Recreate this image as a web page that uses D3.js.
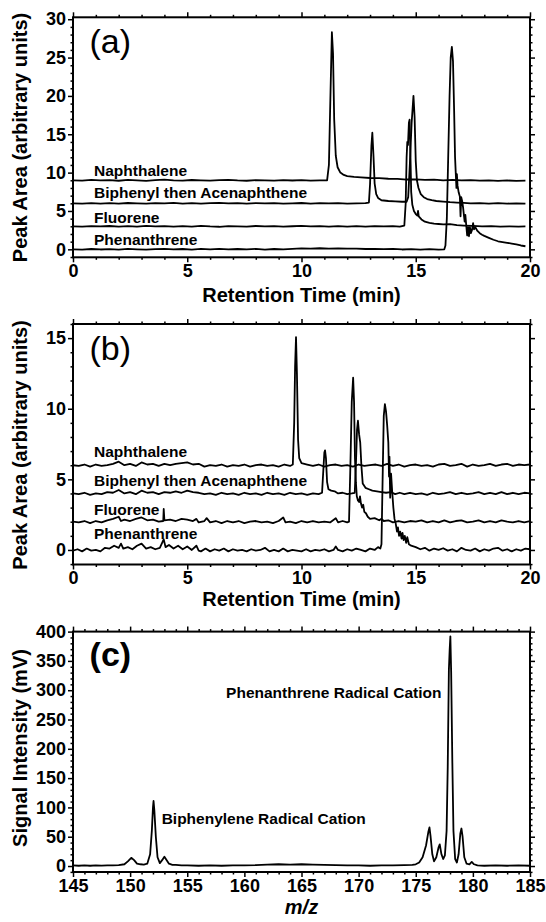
<!DOCTYPE html>
<html lang="en">
<head>
  <meta charset="UTF-8">
  <title>PAH chromatograms and mass spectrum</title>
  <style>
    body {
      margin: 0;
      background: #fff;
    }
    svg {
      display: block;
      font-family: "Liberation Sans", Arial, Helvetica, sans-serif;
    }
    .tick text {
      font-size: 18px;
      font-weight: bold;
      fill: #000;
    }
    .tick line {
      stroke: #000;
      stroke-width: 1.5;
    }
    .trace {
      fill: none;
      stroke: #000;
      stroke-width: 1.8;
      stroke-linejoin: round;
    }
  </style>
</head>
<body>
  <div class="chart"></div>
  <script src="https://cdnjs.cloudflare.com/ajax/libs/d3/7.8.5/d3.min.js"></script>
  <script>
    // ---- panel (a): retention time (min), peak area ----
    const naphA = [[0,9.0],[0.4,8.95],[0.8,9.05],[1.2,8.98],[1.6,9.03],[2.0,8.94],[2.4,9.06],[2.8,9.0],[3.2,8.93],[3.6,9.02],[4.0,9.08],[4.4,9.0],[4.8,8.95],[5.2,9.04],[5.6,9.0],[6.0,8.95],[6.4,9.02],[6.8,9.06],[7.2,8.98],[7.6,8.94],[8.0,9.02],[8.4,9.0],[8.8,8.95],[9.2,9.03],[9.6,8.97],[10.0,9.02],[10.4,8.96],[10.8,9.0],[11.12,9.0],[11.2,11.0],[11.27,20.5],[11.33,28.3],[11.38,25.5],[11.43,17],[11.5,12.2],[11.58,10.7],[11.7,10.0],[11.85,9.7],[12.0,9.55],[12.3,9.45],[12.6,9.38],[13.0,9.3],[13.4,9.28],[13.8,9.2],[14.2,9.18],[14.6,9.1],[15.0,9.12],[15.4,9.05],[15.8,9.08],[16.2,9.0],[16.6,9.05],[17.0,8.98],[17.4,9.03],[17.8,8.95],[18.2,9.0],[18.6,8.93],[19.0,8.98],[19.4,8.92],[19.8,8.95]];
    const bipA = [[0,6.0],[0.4,5.95],[0.8,6.03],[1.2,5.97],[1.6,6.02],[2.0,5.96],[2.4,6.04],[2.8,5.99],[3.2,5.95],[3.6,6.03],[4.0,6.0],[4.4,6.05],[4.8,5.97],[5.2,6.02],[5.6,5.95],[6.0,6.01],[6.4,6.05],[6.8,5.98],[7.2,6.02],[7.6,5.96],[8.0,6.03],[8.4,5.98],[8.8,6.02],[9.2,5.95],[9.6,6.0],[10.0,6.04],[10.4,5.97],[10.8,6.02],[11.2,5.98],[11.6,6.03],[12.0,5.97],[12.4,6.0],[12.8,6.02],[12.95,6.1],[13.0,8.5],[13.06,13.5],[13.1,15.2],[13.15,12.2],[13.2,8.6],[13.27,7.2],[13.35,6.7],[13.5,6.4],[13.8,6.3],[14.1,6.25],[14.4,6.2],[14.6,6.2],[14.67,6.8],[14.74,11],[14.82,16.5],[14.9,20.0],[14.95,17.2],[15.0,11.5],[15.05,9.0],[15.12,8.0],[15.22,7.2],[15.35,6.8],[15.5,6.55],[15.7,6.4],[15.9,6.3],[16.2,6.22],[16.5,6.15],[16.8,6.1],[17.1,6.05],[17.4,6.0],[17.8,6.03],[18.2,5.97],[18.6,6.02],[19.0,5.96],[19.4,6.0],[19.8,5.95]];
    const fluA = [[0,3.0],[0.4,2.95],[0.8,3.03],[1.2,2.98],[1.6,3.04],[2.0,2.96],[2.4,3.02],[2.8,2.95],[3.2,3.05],[3.6,2.99],[4.0,3.03],[4.4,2.95],[4.8,3.02],[5.2,2.97],[5.6,3.05],[6.0,2.98],[6.4,2.94],[6.8,3.03],[7.2,3.0],[7.6,2.96],[8.0,3.04],[8.4,2.98],[8.8,3.02],[9.2,2.95],[9.6,3.01],[10.0,3.05],[10.4,2.98],[10.8,3.02],[11.2,2.96],[11.6,3.03],[12.0,2.97],[12.4,3.02],[12.8,2.95],[13.2,3.03],[13.6,2.98],[14.0,3.02],[14.3,2.97],[14.5,3.1],[14.56,6],[14.6,12],[14.63,14.0],[14.66,13.6],[14.7,16.5],[14.73,16.9],[14.77,12],[14.8,7.5],[14.85,5.8],[14.92,5.0],[15.0,4.6],[15.07,4.4],[15.1,5.0],[15.13,4.3],[15.25,3.9],[15.4,3.6],[15.6,3.45],[15.8,3.35],[16.0,3.3],[16.2,3.25],[16.5,3.28],[16.8,3.15],[17.1,3.1],[17.5,3.05],[17.9,3.0],[18.3,3.02],[18.7,2.97],[19.1,3.0],[19.5,2.96],[19.8,2.98]];
    const phenA = [[0,0.0],[0.4,-0.05],[0.8,0.04],[1.2,-0.02],[1.6,0.03],[2.0,-0.04],[2.4,0.05],[2.8,0.0],[3.2,-0.05],[3.6,0.03],[4.0,0.06],[4.4,-0.02],[4.8,0.04],[5.2,-0.03],[5.6,0.05],[6.0,0.0],[6.4,0.06],[6.8,-0.02],[7.2,0.04],[7.6,0.0],[8.0,0.05],[8.4,-0.03],[8.8,0.04],[9.2,0.0],[9.6,0.06],[10.0,0.12],[10.4,0.08],[10.8,0.14],[11.2,0.1],[11.6,0.13],[12.0,0.08],[12.4,0.1],[12.8,0.04],[13.2,0.07],[13.6,0.02],[14.0,0.05],[14.4,-0.02],[14.8,0.03],[15.2,-0.04],[15.6,0.02],[16.0,-0.05],[16.25,0.0],[16.3,0.5],[16.36,4],[16.42,12],[16.48,20],[16.53,25],[16.58,26.4],[16.63,24.5],[16.68,18],[16.72,12],[16.75,10.0],[16.78,8.0],[16.8,9.8],[16.83,8.3],[16.88,7.4],[16.93,6.9],[16.96,4.3],[16.99,6.8],[17.03,6.3],[17.07,5.5],[17.11,4.4],[17.14,3.6],[17.17,4.5],[17.21,3.1],[17.25,1.8],[17.29,2.9],[17.33,1.7],[17.37,2.9],[17.41,2.1],[17.46,2.5],[17.51,3.4],[17.55,2.6],[17.6,2.9],[17.7,2.4],[17.8,2.1],[17.9,1.9],[18.0,1.75],[18.2,1.5],[18.4,1.25],[18.6,1.05],[18.8,0.95],[19.0,0.85],[19.2,0.75],[19.4,0.65],[19.6,0.5],[19.8,0.4]];

    // ---- panel (b) ----
    const naphB = [[0,6.0],[0.25,5.95],[0.5,6.05],[0.75,5.9],[1.0,6.05],[1.25,5.95],[1.5,6.0],[1.75,6.1],[2.0,6.25],[2.25,6.0],[2.5,6.1],[2.75,5.95],[3.0,6.2],[3.25,6.05],[3.5,6.1],[3.75,5.95],[4.0,6.1],[4.25,6.0],[4.5,6.1],[4.75,6.15],[5.0,6.2],[5.25,6.05],[5.5,6.1],[5.75,5.9],[6.0,6.0],[6.25,5.95],[6.5,6.05],[6.75,5.9],[7.0,6.0],[7.25,5.95],[7.5,6.05],[7.75,5.9],[8.0,6.0],[8.25,6.05],[8.5,5.95],[8.75,6.0],[9.0,5.9],[9.25,6.05],[9.5,5.95],[9.62,6.05],[9.68,9],[9.72,13],[9.76,15.07],[9.8,12.5],[9.85,7.8],[9.9,6.5],[10.0,6.15],[10.25,6.05],[10.5,5.95],[10.75,6.05],[11.0,5.9],[11.25,6.0],[11.5,6.05],[11.75,5.95],[12.0,6.0],[12.25,5.9],[12.5,6.05],[12.75,5.95],[13.0,6.0],[13.25,6.05],[13.5,5.95],[13.75,6.1],[14.0,5.95],[14.25,6.05],[14.5,5.9],[14.75,6.0],[15.0,6.05],[15.25,5.95],[15.5,6.0],[15.75,5.9],[16.0,6.05],[16.25,6.1],[16.5,5.95],[16.75,6.0],[17.0,6.1],[17.25,5.9],[17.5,6.05],[17.75,5.95],[18.0,6.0],[18.25,6.1],[18.5,5.95],[18.75,6.05],[19.0,6.1],[19.25,5.95],[19.5,6.05],[19.75,6.0],[20.0,6.05]];
    const bipB = [[0,4.0],[0.25,3.95],[0.5,4.05],[0.75,3.9],[1.0,4.0],[1.25,3.95],[1.5,4.1],[1.75,4.05],[2.0,4.25],[2.25,4.0],[2.5,4.1],[2.75,3.95],[3.0,4.2],[3.25,4.05],[3.5,4.1],[3.75,3.95],[4.0,4.1],[4.25,4.05],[4.5,4.15],[4.75,4.05],[5.0,4.2],[5.25,4.1],[5.5,4.05],[5.75,3.95],[6.0,4.0],[6.25,3.9],[6.5,4.05],[6.75,3.95],[7.0,4.0],[7.25,3.9],[7.5,4.05],[7.75,3.95],[8.0,4.0],[8.25,3.9],[8.5,4.05],[8.75,3.95],[9.0,4.0],[9.25,3.9],[9.5,4.05],[9.75,3.95],[10.0,4.0],[10.25,3.9],[10.5,4.0],[10.75,3.95],[10.9,4.05],[10.95,5.5],[11.0,6.9],[11.03,7.05],[11.07,6.5],[11.12,4.8],[11.18,4.3],[11.3,4.2],[11.45,4.15],[11.6,4.0],[11.8,4.05],[12.0,3.95],[12.2,4.0],[12.33,4.05],[12.38,6],[12.43,8.5],[12.47,9.15],[12.52,8.2],[12.57,7.6],[12.62,6.0],[12.68,4.7],[12.8,4.4],[12.95,4.3],[13.1,4.2],[13.3,4.15],[13.5,4.1],[13.7,4.05],[13.9,4.1],[14.1,3.95],[14.3,4.05],[14.5,3.95],[14.75,4.05],[15.0,3.95],[15.25,4.0],[15.5,3.9],[15.75,4.05],[16.0,3.95],[16.25,4.0],[16.5,4.1],[16.75,3.95],[17.0,4.05],[17.25,3.95],[17.5,4.0],[17.75,4.1],[18.0,3.95],[18.25,4.05],[18.5,3.95],[18.75,4.1],[19.0,3.95],[19.25,4.05],[19.5,3.95],[19.75,4.05],[20.0,4.0]];
    const fluB = [[0,2.0],[0.25,1.95],[0.5,2.05],[0.75,1.9],[1.0,2.05],[1.25,1.95],[1.5,2.1],[1.75,2.2],[2.0,2.35],[2.1,2.05],[2.25,2.15],[2.5,2.05],[2.75,2.2],[3.0,2.3],[3.25,2.1],[3.5,2.15],[3.75,2.0],[3.95,2.05],[3.97,2.9],[4.0,2.1],[4.25,2.15],[4.5,2.05],[4.75,2.2],[5.0,2.15],[5.25,2.05],[5.4,2.2],[5.5,1.95],[5.75,2.05],[5.85,2.25],[6.0,1.95],[6.25,2.05],[6.5,1.9],[6.75,2.05],[7.0,1.95],[7.25,2.05],[7.5,1.9],[7.75,2.0],[8.0,2.05],[8.25,1.95],[8.5,2.0],[8.75,1.9],[9.0,2.05],[9.2,2.3],[9.3,1.95],[9.5,2.0],[9.75,1.9],[10.0,2.05],[10.25,1.95],[10.5,2.05],[10.75,1.95],[11.0,2.0],[11.25,1.95],[11.5,2.25],[11.6,1.95],[11.8,2.05],[12.0,1.95],[12.08,2.0],[12.14,6],[12.2,10.5],[12.26,12.2],[12.3,10.5],[12.34,6.5],[12.38,4.8],[12.42,3.8],[12.47,3.5],[12.52,3.4],[12.56,3.8],[12.6,3.3],[12.65,3.0],[12.7,3.2],[12.75,2.7],[12.82,2.6],[12.9,2.35],[13.0,2.2],[13.2,2.25],[13.4,2.1],[13.5,2.2],[13.6,2.05],[13.8,2.1],[14.0,1.95],[14.25,2.05],[14.5,1.95],[14.75,2.05],[15.0,2.0],[15.25,2.1],[15.5,1.95],[15.75,2.05],[16.0,1.95],[16.25,2.1],[16.5,1.95],[16.75,2.05],[17.0,2.1],[17.25,1.95],[17.5,2.0],[17.75,2.1],[18.0,1.95],[18.25,2.05],[18.5,1.95],[18.75,2.1],[19.0,2.0],[19.25,1.95],[19.5,2.05],[19.75,1.95],[20.0,2.05]];
    const phenB = [[0,-0.05],[0.2,0.05],[0.4,-0.1],[0.6,0.1],[0.8,-0.05],[1.0,0.0],[1.2,-0.1],[1.4,0.15],[1.6,0.1],[1.8,0.3],[2.0,0.15],[2.1,0.45],[2.2,0.1],[2.4,0.2],[2.6,0.05],[2.8,0.3],[3.0,0.45],[3.2,0.1],[3.4,0.2],[3.6,0.05],[3.8,0.15],[3.97,0.75],[4.05,0.2],[4.2,0.35],[4.4,0.1],[4.6,0.3],[4.8,0.05],[5.0,0.25],[5.2,0.0],[5.4,0.3],[5.5,-0.05],[5.6,-0.1],[5.8,0.1],[6.0,-0.1],[6.2,0.05],[6.4,-0.05],[6.6,0.1],[6.8,-0.1],[7.0,0.05],[7.2,-0.05],[7.4,0.0],[7.6,-0.1],[7.8,0.05],[8.0,-0.05],[8.2,0.0],[8.4,0.15],[8.6,-0.1],[8.8,0.0],[9.0,-0.1],[9.2,0.1],[9.4,-0.1],[9.6,0.0],[9.8,-0.05],[10.0,-0.1],[10.2,0.05],[10.4,-0.1],[10.6,0.0],[10.8,-0.05],[11.0,0.05],[11.2,-0.1],[11.4,0.0],[11.5,0.25],[11.6,0.0],[11.8,-0.1],[12.0,0.05],[12.2,-0.05],[12.4,0.1],[12.6,0.0],[12.8,-0.1],[13.0,0.1],[13.2,0.0],[13.35,0.2],[13.45,0.1],[13.5,0.4],[13.55,5],[13.6,9.5],[13.65,10.33],[13.7,9.8],[13.75,8.8],[13.8,7.6],[13.83,5.2],[13.85,6.6],[13.88,3.7],[13.92,5.4],[13.97,4.1],[14.02,3.0],[14.07,2.2],[14.12,1.9],[14.18,1.3],[14.22,1.6],[14.27,1.0],[14.32,1.3],[14.38,0.8],[14.42,1.2],[14.47,0.7],[14.52,1.0],[14.58,0.5],[14.63,0.9],[14.7,0.4],[14.8,0.3],[15.0,0.2],[15.2,0.05],[15.4,0.15],[15.6,-0.05],[15.8,0.1],[16.0,0.0],[16.2,0.12],[16.4,-0.05],[16.6,0.05],[16.8,-0.1],[17.0,0.15],[17.2,0.0],[17.4,-0.05],[17.6,0.1],[17.8,-0.1],[18.0,0.05],[18.2,-0.05],[18.4,0.1],[18.6,0.15],[18.8,-0.05],[19.0,0.05],[19.2,-0.1],[19.4,0.05],[19.6,-0.05],[19.8,0.1],[20.0,0.05]];

    // ---- panel (c): m/z, signal (mV) ----
    const spectrum = [[145,1],[145.5,0.5],[146,1],[146.5,0.5],[147,1],[147.5,0.8],[148,1],[148.5,1],[149,1.5],[149.5,3],[149.8,8],[150.1,14],[150.35,10],[150.6,4],[150.9,3],[151.2,2.5],[151.5,4],[151.75,20],[151.9,60],[152.0,100],[152.05,111],[152.12,95],[152.25,50],[152.4,15],[152.6,5],[152.8,10],[153.0,16],[153.2,10],[153.4,4],[153.7,2],[154,2],[154.5,1],[155,1],[156,0.5],[157,1],[158,0.5],[159,1],[160,1],[161,1.5],[162,2.5],[163,3],[164,2.5],[165,3],[166,2.5],[167,2],[168,1.5],[169,1],[170,1],[171,0.5],[172,1],[173,1],[174,1.5],[174.7,2],[175,3],[175.3,6],[175.6,15],[175.9,35],[176.1,58],[176.2,66],[176.3,50],[176.45,20],[176.6,8],[176.8,15],[177.0,32],[177.1,37],[177.25,20],[177.4,12],[177.55,18],[177.7,60],[177.8,170],[177.9,335],[177.97,370],[178.03,392],[178.1,330],[178.2,180],[178.3,60],[178.45,12],[178.6,6],[178.75,20],[178.9,55],[179.0,64],[179.1,50],[179.25,15],[179.45,4],[179.7,3],[179.9,7],[180.1,3],[180.4,1],[181,0.5],[182,1],[183,0.5],[184,1],[185,0.5]];

    const traceNamesAB = ['Naphthalene', 'Biphenyl then Acenaphthene', 'Fluorene', 'Phenanthrene'];
    const nameLevelsA = [9.55, 6.65, 3.47, 0.56];
    const nameLevelsB = [6.6, 4.55, 2.48, 0.76];

    const svgWidth = 546;
    const svgHeight = 922;
    const plotLeft = 73;
    const plotRight = 530;

    const svg = d3.select('.chart')
      .append('svg')
      .attr('width', svgWidth)
      .attr('height', svgHeight);

    const panels = [
      {
        id: 'a', tag: '(a)', tagBold: false,
        top: 17.3, bottom: 257.3,
        xDomain: [0, 20], yDomain: [-1.04, 30.25], yMajor: 5, yMinor: 1,
        traces: [naphA, bipA, fluA, phenA],
        names: traceNamesAB, nameLevels: nameLevelsA, nameX: 0.92,
        tagPos: [0.72, 25.6],
        yTitle: 'Peak Area (arbitrary units)', yTitleMid: 137.5,
        xTitle: 'Retention Time (min)', xTitleY: 302
      },
      {
        id: 'b', tag: '(b)', tagBold: false,
        top: 324, bottom: 564.5,
        xDomain: [0, 20], yDomain: [-1.03, 16.0], yMajor: 5, yMinor: 1,
        traces: [naphB, bipB, fluB, phenB],
        names: traceNamesAB, nameLevels: nameLevelsB, nameX: 0.92,
        tagPos: [0.72, 13.45],
        yTitle: 'Peak Area (arbitrary units)', yTitleMid: 445,
        xTitle: 'Retention Time (min)', xTitleY: 606
      },
      {
        id: 'c', tag: '(c)', tagBold: true,
        top: 631.6, bottom: 872,
        xDomain: [145, 185], yDomain: [-10.2, 400], yMajor: 50, yMinor: 10,
        traces: [spectrum],
        names: ['Phenanthrene Radical Cation', 'Biphenylene Radical Cation'],
        namePoints: [[158.4, 287.5], [152.76, 71.2]],
        tagPos: [146.45, 341],
        yTitle: 'Signal Intensity (mV)', yTitleMid: 748,
        xTitle: 'm/z', xTitleY: 914, xTitleItalic: true
      }
    ];

    function ticksBetween(domain, step) {
      const start = Math.ceil(domain[0] / step) * step;
      return d3.range(start, domain[1] + 1e-6, step).map(v => +v.toFixed(6));
    }

    panels.forEach(p => {
      const x = d3.scaleLinear().domain(p.xDomain).range([plotLeft, plotRight]);
      const y = d3.scaleLinear().domain(p.yDomain).range([p.bottom, p.top]);
      const g = svg.append('g').attr('class', 'panel-' + p.id);

      const xMajor = ticksBetween(p.xDomain, 5);
      const xMinor = ticksBetween(p.xDomain, 1).filter(v => xMajor.indexOf(v) < 0);
      const yMajor = ticksBetween(p.yDomain, p.yMajor);
      const yMinor = ticksBetween(p.yDomain, p.yMinor).filter(v => yMajor.indexOf(v) < 0);

      const axes = [
        [d3.axisBottom(x), `translate(0,${p.bottom})`, xMajor, xMinor, true],
        [d3.axisTop(x), `translate(0,${p.top})`, xMajor, xMinor, false],
        [d3.axisLeft(y), `translate(${plotLeft},0)`, yMajor, yMinor, true],
        [d3.axisRight(y), `translate(${plotRight},0)`, yMajor, yMinor, false]
      ];
      axes.forEach(([axis, tr, major, minor, labelled]) => {
        g.append('g')
          .attr('transform', tr)
          .call(axis.tickValues(minor).tickSize(2.5).tickFormat(''))
          .call(s => s.select('.domain').remove());
        g.append('g')
          .attr('transform', tr)
          .call(axis.tickValues(major).tickSize(5).tickPadding(2).tickFormat(labelled ? d3.format('d') : ''))
          .call(s => s.select('.domain').remove());
      });

      g.append('rect')
        .attr('x', plotLeft)
        .attr('y', p.top)
        .attr('width', plotRight - plotLeft)
        .attr('height', p.bottom - p.top)
        .attr('fill', 'none')
        .attr('stroke', '#000')
        .attr('stroke-width', 2);

      const clipId = 'clip-' + p.id;
      g.append('clipPath').attr('id', clipId)
        .append('rect')
        .attr('x', plotLeft).attr('y', p.top)
        .attr('width', plotRight - plotLeft).attr('height', p.bottom - p.top);

      const line = d3.line()
        .x(d => x(d[0]))
        .y(d => y(d[1]));

      g.append('g')
        .attr('clip-path', `url(#${clipId})`)
        .selectAll('path')
        .data(p.traces)
        .join('path')
        .attr('class', 'trace')
        .attr('d', line);

      // trace / peak names
      p.names.forEach((name, i) => {
        const pos = p.namePoints ? p.namePoints[i] : [p.nameX, p.nameLevels[i]];
        g.append('text')
          .attr('x', x(pos[0]))
          .attr('y', y(pos[1]))
          .attr('font-size', 15.5)
          .attr('font-weight', 'bold')
          .text(name);
      });

      g.append('text')
        .attr('x', x(p.tagPos[0]))
        .attr('y', y(p.tagPos[1]))
        .attr('font-size', 34)
        .attr('font-weight', p.tagBold ? 'bold' : 'normal')
        .text(p.tag);

      g.append('text')
        .attr('transform', `translate(27,${p.yTitleMid}) rotate(-90)`)
        .attr('text-anchor', 'middle')
        .attr('font-size', 20)
        .attr('font-weight', 'bold')
        .text(p.yTitle);

      g.append('text')
        .attr('x', (plotLeft + plotRight) / 2)
        .attr('y', p.xTitleY)
        .attr('text-anchor', 'middle')
        .attr('font-size', 20)
        .attr('font-weight', 'bold')
        .attr('font-style', p.xTitleItalic ? 'italic' : 'normal')
        .text(p.xTitle);
    });
  </script>
</body>
</html>
